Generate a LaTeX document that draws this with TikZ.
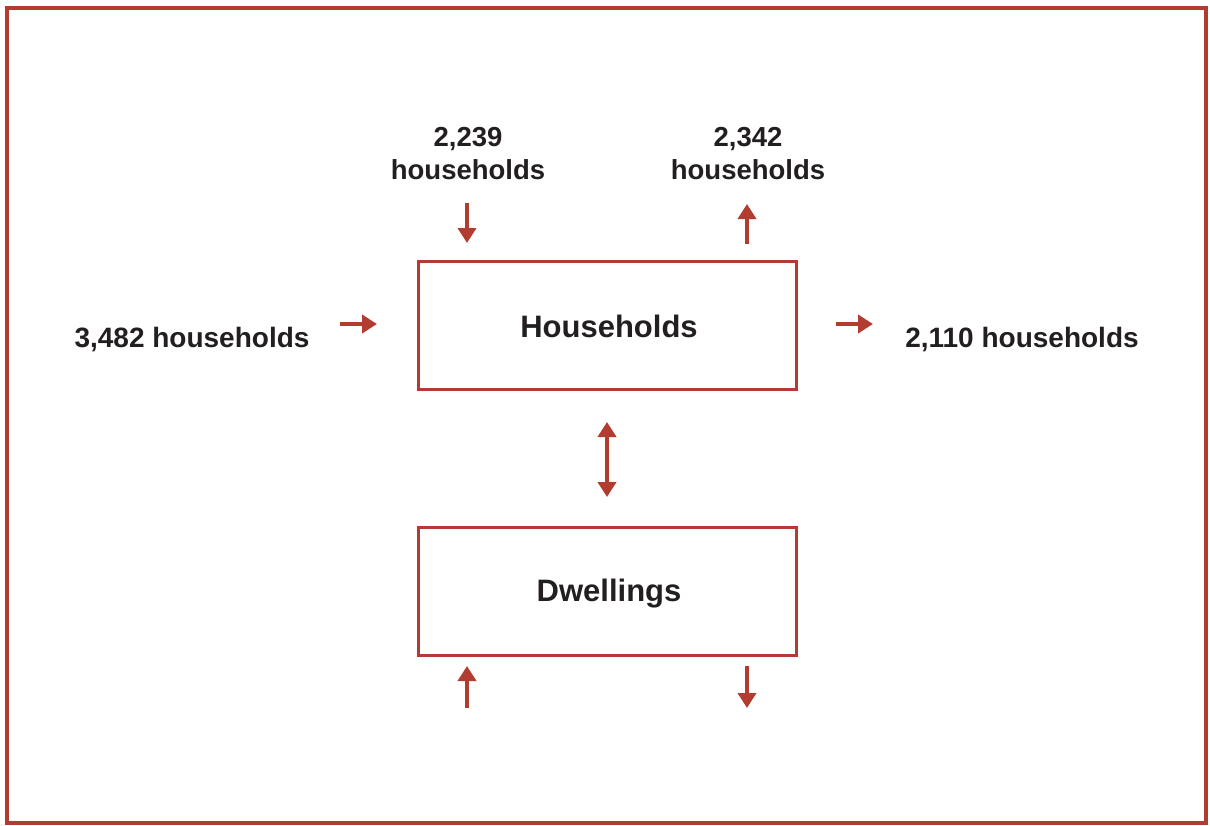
\documentclass[tikz,border=0pt]{standalone}
\usepackage{fontspec}
\setmainfont{Liberation Sans}
\usetikzlibrary{arrows.meta}
\definecolor{frame}{RGB}{178,60,48}
\definecolor{ink}{RGB}{35,31,32}
\tikzset{
  box/.style={draw=frame, line width=3pt, minimum width=378pt, minimum height=128pt, inner sep=0pt},
  boxlabel/.style={text=ink, font=\bfseries\fontsize{31}{35}\selectfont},
  lbl/.style={text=ink, font=\bfseries\fontsize{27.5}{33}\selectfont, align=center, inner sep=0pt},
  sidelbl/.style={text=ink, font=\bfseries\fontsize{28}{33}\selectfont, inner sep=0pt},
  flow/.style={draw=frame, line width=4.8pt, -{Triangle[length=15pt,width=18pt]}},
  flowboth/.style={draw=frame, line width=4.8pt, {Triangle[length=15pt,width=18pt]}-{Triangle[length=15pt,width=18pt]}}
}
\begin{document}
\begin{tikzpicture}[x=1pt,y=-1pt]
\useasboundingbox (0,0) rectangle (1210,825);
\draw[frame, line width=3.5pt] (7,8) rectangle (1206,823);
\node[box] (hh) at (607,325) {};
\node[boxlabel] (hhl) at (609,326) {Households};
\node[box] (dw) at (607,591) {};
\node[boxlabel] (dwl) at (609,594) {Dwellings};
\node[lbl] (t1) at (468,154) {2,239\\households};
\node[lbl] (t2) at (748,154) {2,342\\households};
\node[sidelbl] (l1) at (192,340) {3,482 households};
\node[sidelbl] (r1) at (1022,340) {2,110 households};
% arrow end points
\coordinate (a1s) at (467,203); \coordinate (a1e) at (467,243);
\coordinate (a2s) at (747,244); \coordinate (a2e) at (747,204);
\coordinate (a3s) at (340,324); \coordinate (a3e) at (377,324);
\coordinate (a4s) at (836,324); \coordinate (a4e) at (873,324);
\coordinate (a5s) at (607,422); \coordinate (a5e) at (607,497);
\coordinate (a6s) at (467,708); \coordinate (a6e) at (467,666);
\coordinate (a7s) at (747,666); \coordinate (a7e) at (747,708);
\draw[flow] (a1s) -- (a1e);
\draw[flow] (a2s) -- (a2e);
\draw[flow] (a3s) -- (a3e);
\draw[flow] (a4s) -- (a4e);
\draw[flowboth] (a5s) -- (a5e);
\draw[flow] (a6s) -- (a6e);
\draw[flow] (a7s) -- (a7e);
\end{tikzpicture}
\end{document}
